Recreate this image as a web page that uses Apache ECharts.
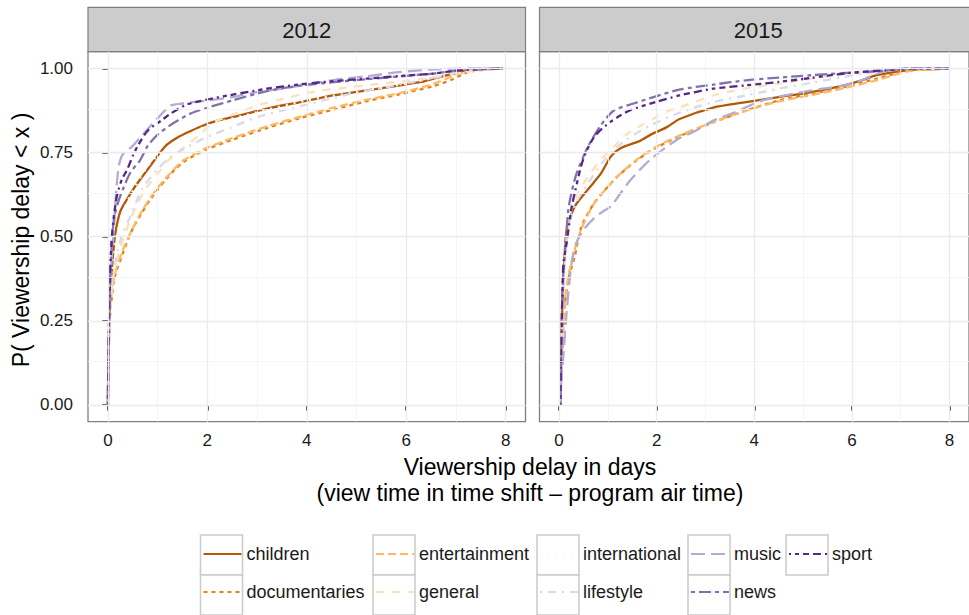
<!DOCTYPE html>
<html>
<head>
<meta charset="utf-8">
<script src="https://cdn.jsdelivr.net/npm/echarts@6/dist/echarts.min.js"></script>
<style>
html,body{margin:0;padding:0;background:#fff;}
#chart{width:969px;height:615px;}
</style>
</head>
<body>
<div id="chart"></div>
<script>
// ---- Data ----
const panels = ['2012', '2015'];
const categories = ['children','documentaries','entertainment','general','international','lifestyle','music','news','sport'];
const colors = ['#b35806','#e08214','#fdb863','#fee0b6','#f7f7f7','#d8daeb','#b2abd2','#8073ac','#542788'];
const dashes = ['solid',[4,4],[8,4],[8,8],[2,6],[2,6,8,6],[14,6],[4,4,12,4],[2,4,4,4,6,4,8,4]];

const xTicks = [0,2,4,6,8];
const xMinor = [1,3,5,7];
const yTicks = [0,0.25,0.5,0.75,1];
const yMinor = [0.125,0.375,0.625,0.875];

// 2012 curves: [delay in days, P(delay < x)]
const children2012 = [[0,0],[0.01,0.1],[0.02,0.2],[0.04,0.3],[0.07,0.38],[0.1,0.44],[0.15,0.51],[0.25,0.575],[0.4,0.615],[0.55,0.65],[0.7,0.68],[0.85,0.71],[1.05,0.75],[1.2,0.775],[1.4,0.795],[1.6,0.81],[1.86,0.827],[2.2,0.845],[2.66,0.861],[3.2,0.881],[3.87,0.9],[4.53,0.92],[5.21,0.935],[5.88,0.95],[6.3,0.96],[6.55,0.97],[6.95,0.985],[7.22,0.995],[7.95,1]];
const documentaries2012 = [[0,0],[0.01,0.1],[0.02,0.18],[0.04,0.26],[0.08,0.32],[0.12,0.37],[0.2,0.41],[0.3,0.45],[0.4,0.49],[0.52,0.53],[0.7,0.575],[0.85,0.61],[1.0,0.64],[1.19,0.674],[1.35,0.7],[1.52,0.722],[1.75,0.742],[1.99,0.76],[2.5,0.788],[3.2,0.823],[3.87,0.853],[4.54,0.878],[5.21,0.903],[5.88,0.924],[6.55,0.948],[6.94,0.968],[7.22,0.988],[7.6,0.998],[7.9,1]];
const entertainment2012 = [[0,0],[0.01,0.12],[0.03,0.22],[0.05,0.3],[0.1,0.36],[0.18,0.41],[0.3,0.46],[0.42,0.5],[0.55,0.54],[0.7,0.58],[0.85,0.615],[1.0,0.645],[1.2,0.68],[1.5,0.725],[1.8,0.75],[2.0,0.765],[2.5,0.793],[3.2,0.828],[3.9,0.858],[4.5,0.882],[5.2,0.907],[5.9,0.928],[6.5,0.952],[6.9,0.975],[7.2,0.99],[7.9,1]];
const general2012 = [[0,0],[0.01,0.1],[0.03,0.2],[0.06,0.3],[0.1,0.37],[0.18,0.43],[0.3,0.49],[0.45,0.55],[0.6,0.6],[0.8,0.65],[1.02,0.69],[1.2,0.725],[1.46,0.757],[1.86,0.805],[2.12,0.84],[2.5,0.862],[3.0,0.89],[3.4,0.905],[4.1,0.93],[4.9,0.945],[5.5,0.955],[6.1,0.965],[6.7,0.977],[7.1,0.99],[7.9,1]];
const international2012 = [[0,0],[0.01,0.15],[0.03,0.27],[0.06,0.37],[0.1,0.44],[0.2,0.52],[0.35,0.59],[0.55,0.65],[0.8,0.71],[1.0,0.74],[1.5,0.79],[2.0,0.83],[3,0.87],[4,0.905],[5,0.93],[6,0.955],[7,0.985],[7.9,1]];
const lifestyle2012 = [[0,0],[0.01,0.12],[0.03,0.22],[0.06,0.31],[0.1,0.38],[0.2,0.46],[0.3,0.51],[0.45,0.56],[0.7,0.645],[1.0,0.7],[1.2,0.73],[1.4,0.75],[1.9,0.79],[2.5,0.826],[3.0,0.855],[3.5,0.875],[4.0,0.893],[4.9,0.925],[5.6,0.945],[6.3,0.965],[6.9,0.985],[7.3,0.997],[7.9,1]];
const music2012 = [[0,0],[0.01,0.14],[0.03,0.28],[0.06,0.4],[0.1,0.48],[0.13,0.55],[0.17,0.64],[0.22,0.71],[0.3,0.745],[0.5,0.77],[0.8,0.82],[1.05,0.86],[1.26,0.89],[1.5,0.896],[2.0,0.905],[2.5,0.915],[3.0,0.93],[3.5,0.94],[4.0,0.952],[4.5,0.965],[5.2,0.977],[5.9,0.99],[6.5,0.997],[7.2,1],[7.9,1]];
const news2012 = [[0,0],[0.01,0.14],[0.03,0.28],[0.05,0.4],[0.08,0.48],[0.12,0.55],[0.2,0.6],[0.3,0.64],[0.45,0.69],[0.65,0.728],[0.8,0.77],[0.99,0.802],[1.26,0.832],[1.66,0.866],[2.06,0.886],[2.5,0.905],[3.2,0.933],[3.9,0.95],[4.6,0.96],[5.2,0.968],[5.9,0.977],[6.55,0.985],[7.1,0.995],[7.9,1]];
const sport2012 = [[0,0],[0.01,0.15],[0.03,0.3],[0.05,0.42],[0.08,0.5],[0.12,0.56],[0.18,0.62],[0.28,0.67],[0.39,0.7],[0.5,0.74],[0.6,0.77],[0.8,0.815],[1.09,0.847],[1.26,0.866],[1.59,0.893],[2.0,0.908],[2.46,0.921],[3.2,0.94],[3.87,0.953],[4.5,0.962],[5.2,0.97],[5.9,0.978],[6.55,0.985],[7.08,0.995],[7.9,1]];

// 2015 curves
const children2015 = [[0.03,0],[0.04,0.1],[0.05,0.2],[0.07,0.3],[0.1,0.4],[0.155,0.52],[0.32,0.589],[0.59,0.64],[0.86,0.688],[1.06,0.738],[1.26,0.763],[1.66,0.785],[1.9,0.805],[2.2,0.825],[2.47,0.85],[3.16,0.884],[3.83,0.9],[4.5,0.915],[5.17,0.93],[5.84,0.95],[6.2,0.965],[6.51,0.98],[7.18,0.995],[8,1]];
const documentaries2015 = [[0.03,0],[0.05,0.1],[0.08,0.2],[0.12,0.3],[0.2,0.38],[0.32,0.44],[0.46,0.53],[0.72,0.6],[0.95,0.64],[1.19,0.678],[1.6,0.728],[2.0,0.765],[2.49,0.8],[3.16,0.84],[3.83,0.875],[4.5,0.905],[5.17,0.925],[5.84,0.945],[6.51,0.97],[7.18,0.995],[8,1]];
const entertainment2015 = [[0.03,0],[0.05,0.12],[0.08,0.22],[0.12,0.31],[0.2,0.39],[0.3,0.45],[0.45,0.52],[0.7,0.595],[0.95,0.64],[1.2,0.68],[1.6,0.73],[2.0,0.768],[2.5,0.803],[3.2,0.843],[3.9,0.878],[4.5,0.902],[5.2,0.922],[5.8,0.94],[6.5,0.965],[7.2,0.993],[8,1]];
const general2015 = [[0.03,0],[0.04,0.12],[0.06,0.25],[0.09,0.36],[0.13,0.45],[0.2,0.55],[0.35,0.62],[0.6,0.68],[0.86,0.73],[1.06,0.758],[1.39,0.805],[1.86,0.845],[2.26,0.875],[2.49,0.885],[3.16,0.92],[3.8,0.94],[4.5,0.955],[5.2,0.97],[5.84,0.985],[6.5,0.995],[7.2,1],[8,1]];
const international2015 = [[0.03,0],[0.04,0.15],[0.06,0.3],[0.09,0.42],[0.14,0.5],[0.22,0.58],[0.4,0.65],[0.7,0.71],[1.0,0.76],[1.4,0.81],[2.0,0.855],[2.5,0.88],[3.2,0.91],[4,0.935],[5,0.96],[6,0.98],[7,0.997],[8,1]];
const lifestyle2015 = [[0.03,0],[0.04,0.12],[0.06,0.24],[0.09,0.35],[0.13,0.44],[0.2,0.53],[0.35,0.6],[0.6,0.66],[0.86,0.715],[1.1,0.755],[1.4,0.79],[1.86,0.83],[2.5,0.87],[3.16,0.9],[3.83,0.92],[4.5,0.94],[5.2,0.958],[5.84,0.975],[6.5,0.99],[7.2,1],[8,1]];
const music2015 = [[0.03,0],[0.05,0.08],[0.088,0.144],[0.155,0.274],[0.255,0.42],[0.35,0.48],[0.5,0.52],[0.72,0.555],[0.9,0.575],[1.06,0.59],[1.26,0.629],[1.46,0.668],[1.86,0.728],[2.4,0.787],[2.8,0.815],[3.16,0.845],[3.6,0.87],[4.17,0.905],[4.84,0.926],[5.4,0.94],[5.84,0.95],[6.2,0.965],[6.51,0.985],[7.05,1],[8,1]];
const news2015 = [[0.03,0],[0.04,0.15],[0.06,0.3],[0.09,0.4],[0.12,0.45],[0.19,0.58],[0.27,0.64],[0.36,0.688],[0.59,0.767],[0.86,0.832],[1.13,0.876],[1.53,0.896],[2.0,0.918],[2.49,0.938],[3.2,0.953],[3.83,0.965],[4.5,0.973],[5.17,0.98],[5.8,0.986],[6.5,0.992],[7.18,1],[8,1]];
const sport2015 = [[0.03,0],[0.04,0.12],[0.054,0.223],[0.07,0.33],[0.09,0.42],[0.155,0.48],[0.25,0.58],[0.32,0.629],[0.49,0.728],[0.72,0.797],[1.06,0.842],[1.46,0.876],[2.0,0.901],[2.47,0.92],[3.16,0.94],[3.83,0.95],[4.5,0.96],[5.17,0.972],[5.84,0.985],[6.5,0.993],[7.05,0.998],[8,1]];

const data2012 = [children2012,documentaries2012,entertainment2012,general2012,international2012,lifestyle2012,music2012,news2012,sport2012];
const data2015 = [children2015,documentaries2015,entertainment2015,general2015,international2015,lifestyle2015,music2015,news2015,sport2015];

// ---- Layout ----
const FONT = '"Liberation Sans", Arial, Helvetica, sans-serif';
const gridTop = 51.7, gridH = 370;
const grids = [
  {left: 88, top: gridTop, width: 437.5, height: gridH},
  {left: 539.5, top: gridTop, width: 437.5, height: gridH}
];

const chart = echarts.init(document.getElementById('chart'), null, {renderer: 'svg'});

const xAxes = grids.map((g, i) => ({
  type: 'value', gridIndex: i, min: -0.4, max: 8.4,
  axisLine: {show: false},
  axisTick: {show: true, customValues: xTicks, length: 5.5, lineStyle: {color: '#333', width: 1.8}},
  axisLabel: {customValues: xTicks, margin: 10, fontSize: 17, color: '#1a1a1a', fontFamily: FONT},
  splitLine: {show: false}
}));
const yAxes = grids.map((g, i) => ({
  type: 'value', gridIndex: i, min: -0.05, max: 1.05,
  axisLine: {show: false},
  axisTick: {show: i === 0, customValues: yTicks, length: 5.5, lineStyle: {color: '#333', width: 1.8}},
  axisLabel: {show: i === 0, customValues: yTicks, margin: 15, fontSize: 17, color: '#1a1a1a', fontFamily: FONT,
    formatter: v => v.toFixed(2)},
  splitLine: {show: false}
}));

const series = [];
grids.forEach((g, i) => {
  series.push({
    type: 'line', name: '_grid' + i, xAxisIndex: i, yAxisIndex: i, data: [], silent: true, z: 1,
    markLine: {
      silent: true, symbol: 'none', animation: false, label: {show: false},
      data: [
        ...xMinor.map(v => ({xAxis: v, lineStyle: {color: '#f2f2f2', width: 0.8, type: 'solid'}})),
        ...yMinor.map(v => ({yAxis: v, lineStyle: {color: '#f2f2f2', width: 0.8, type: 'solid'}})),
        ...xTicks.map(v => ({xAxis: v, lineStyle: {color: '#ebebeb', width: 1.3, type: 'solid'}})),
        ...yTicks.map(v => ({yAxis: v, lineStyle: {color: '#ebebeb', width: 1.3, type: 'solid'}}))
      ]
    }
  });
});
[data2012, data2015].forEach((set, i) => {
  categories.forEach((c, k) => {
    series.push({
      type: 'line', name: c, xAxisIndex: i, yAxisIndex: i, z: 2,
      data: set[k], showSymbol: false, symbol: 'none', smooth: 0.25,
      lineStyle: {color: colors[k], width: 2.3, type: dashes[k]},
      itemStyle: {color: colors[k]},
      emphasis: {disabled: true}
    });
  });
});

// legend columns (column-major, 2 rows)
const legendCols = [['children','documentaries'],['entertainment','general'],['international','lifestyle'],['music','news'],['sport']];
const boxLefts = [200.5, 373, 537, 688, 786];
const boxW = 42, boxH = 40, boxTop = 535;
const legends = legendCols.map((names, j) => ({
  orient: 'vertical', left: boxLefts[j] + 2, top: boxTop + 10, padding: 0,
  itemWidth: 38, itemHeight: 20, itemGap: 20,
  data: names, selectedMode: false,
  itemStyle: {opacity: 0, borderWidth: 0},
  textStyle: {fontSize: 18, color: '#1a1a1a', fontFamily: FONT}
}));

const graphics = [];
// key boxes
legendCols.forEach((names, j) => {
  names.forEach((n, r) => {
    graphics.push({type: 'rect', z: -1, shape: {x: boxLefts[j], y: boxTop + r * boxH, width: boxW, height: boxH},
      style: {fill: '#fff', stroke: '#cccccc', lineWidth: 1.6}});
  });
});
// strips
panels.forEach((p, i) => {
  const g = grids[i];
  graphics.push({type: 'rect', shape: {x: g.left, y: 7.3, width: g.width, height: gridTop - 7.3},
    style: {fill: '#cccccc', stroke: '#7f7f7f', lineWidth: 1.2}});
  graphics.push({type: 'text', x: g.left + g.width / 2, y: (7.3 + gridTop) / 2 + 1,
    style: {text: p, fontSize: 22, fill: '#1a1a1a', fontFamily: FONT, align: 'center', verticalAlign: 'middle'}});
});
// y axis title
graphics.push({type: 'text', x: 21, y: 240, rotation: Math.PI / 2,
  style: {text: 'P( Viewership delay < x )', fontSize: 23, fill: '#000', fontFamily: FONT, align: 'center', verticalAlign: 'middle'}});
// x axis title
graphics.push({type: 'text', x: 530, y: 467,
  style: {text: 'Viewership delay in days', fontSize: 23, fill: '#000', fontFamily: FONT, align: 'center', verticalAlign: 'middle'}});
graphics.push({type: 'text', x: 530, y: 493,
  style: {text: '(view time in time shift \u2013 program air time)', fontSize: 23, fill: '#000', fontFamily: FONT, align: 'center', verticalAlign: 'middle'}});

chart.setOption({
  animation: false,
  backgroundColor: '#ffffff',
  grid: grids.map(g => Object.assign({show: true, backgroundColor: '#fff', borderColor: '#7f7f7f', borderWidth: 1.3, containLabel: false}, g)),
  xAxis: xAxes,
  yAxis: yAxes,
  legend: legends,
  series: series,
  graphic: graphics
});
</script>
</body>
</html>
